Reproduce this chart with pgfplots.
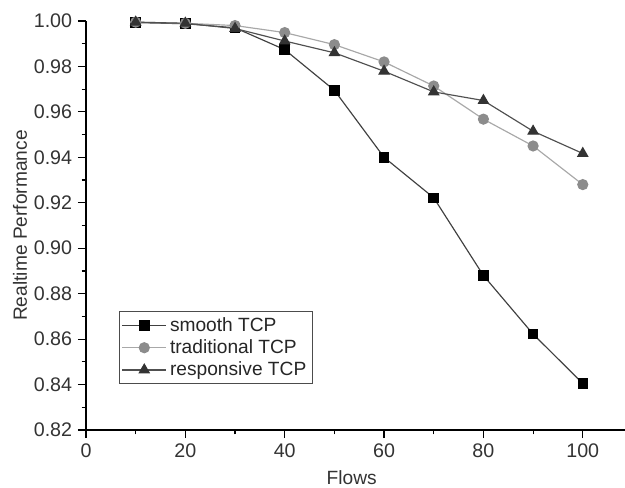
\documentclass[border=0pt]{standalone}
\usepackage{pgfplots}
\pgfplotsset{compat=1.18}
\usepackage{fontspec}
\setmainfont{Liberation Sans}
\definecolor{tickgray}{HTML}{333333}
\definecolor{smoothline}{HTML}{404040}
\definecolor{tradmark}{HTML}{8C8C8C}
\definecolor{tradline}{HTML}{A8A8A8}
\definecolor{respmark}{HTML}{333333}
\definecolor{respline}{HTML}{505050}
\begin{document}
\begin{tikzpicture}
\begin{axis}[
  at={(0,0)}, anchor=south west,
  scale only axis,
  width=323.4pt, height=245.4pt,
  xmin=0, xmax=108.5,
  ymin=0.82, ymax=1.00,
  axis x line*=bottom, axis y line*=left,
  axis line style={-, black, line width=0.8pt},
  tick align=outside,
  major tick length=4.8pt, minor tick length=2.6pt,
  every tick/.style={black, line width=0.7pt},
  xtick={0,20,40,60,80,100},
  ytick={0.82,0.84,0.86,0.88,0.90,0.92,0.94,0.96,0.98,1.00},
  minor x tick num=1, minor y tick num=1,
  /pgf/number format/assume math mode=true,
  yticklabel style={/pgf/number format/fixed, /pgf/number format/fixed zerofill, /pgf/number format/precision=2, font=\fontsize{11.8}{13}\selectfont, text=tickgray},
  xticklabel style={font=\fontsize{11.8}{13}\selectfont, text=tickgray},
  scaled y ticks=false,
  xlabel={Flows}, ylabel={Realtime Performance},
  xlabel style={at={(rel axis cs:0.493,0)}, anchor=center, yshift=-28.8pt, font=\fontsize{11.5}{13}\selectfont, text=tickgray},
  ylabel style={at={(rel axis cs:0,0.5)}, anchor=center, rotate=0, yshift=39.6pt, font=\fontsize{11.5}{13}\selectfont, text=tickgray},
  legend style={at={(rel axis cs:0.061,0.291)}, anchor=north west, draw=black!70, line width=0.6pt, font=\fontsize{11.5}{13}\selectfont, text=black!85, row sep=-0.5pt, inner sep=1.5pt},
  legend cell align=left,
  legend image code/.code={
    \draw[mark repeat=2, mark phase=2, #1] plot coordinates {(0cm,0cm) (0.46cm,0cm) (0.92cm,0cm)};
  },
  clip=false,
]
\addplot[color=smoothline, line width=0.7pt, mark=square*, mark size=2.8pt, mark options={fill=black, draw=black, solid}] coordinates {
(10,0.9993) (20,0.9988) (30,0.9970) (40,0.9874) (50,0.9695) (60,0.9400) (70,0.9222) (80,0.8880) (90,0.8622) (100,0.8405)
};
\addlegendentry{smooth TCP}
\addplot[color=tradline, line width=0.7pt, mark=*, mark size=3pt, mark options={fill=tradmark, draw=tradmark, solid}] coordinates {
(10,0.9995) (20,0.9990) (30,0.9980) (40,0.9949) (50,0.9896) (60,0.9820) (70,0.9714) (80,0.9568) (90,0.9450) (100,0.9280)
};
\addlegendentry{traditional TCP}
\addplot[color=respline, line width=0.7pt, mark=triangle*, mark size=3.4pt, mark options={fill=respmark, draw=respmark, solid}] coordinates {
(10,0.9995) (20,0.9990) (30,0.9967) (40,0.9912) (50,0.9860) (60,0.9779) (70,0.9688) (80,0.9650) (90,0.9515) (100,0.9417)
};
\addlegendentry{responsive TCP}
\end{axis}
\pgfresetboundingbox
\path[use as bounding box] (-51.6pt,-34.2pt) rectangle (323.4pt,258pt);
\end{tikzpicture}
\end{document}
